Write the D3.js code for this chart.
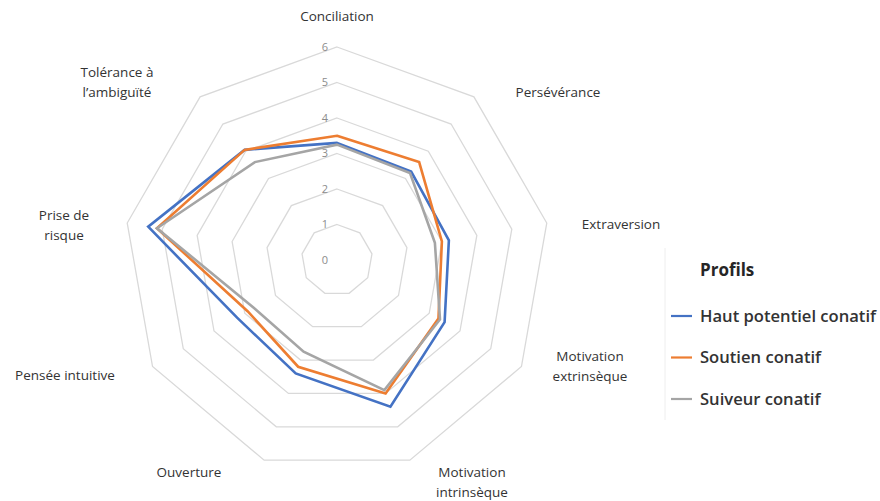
<!DOCTYPE html>
<html>
<head>
<meta charset="utf-8">
<script src="https://cdn.jsdelivr.net/npm/d3@7"></script>
<style>
  body { margin: 0; background: #fff; }
  text { font-family: "Open Sans", sans-serif; }
</style>
</head>
<body>
<div id="viz"></div>
<script>
// Axes of the radar, clockwise from the top
const axes = [
    ["Conciliation"],
    ["Persévérance"],
    ["Extraversion"],
    ["Motivation", "extrinsèque"],
    ["Motivation", "intrinsèque"],
    ["Ouverture"],
    ["Pensée intuitive"],
    ["Prise de", "risque"],
    ["Tolérance à", "l’ambiguïté"]
];

const ticks = [0, 1, 2, 3, 4, 5, 6];

const seriesNames = ["Haut potentiel conatif", "Soutien conatif", "Suiveur conatif"];
const hautPotentiel = [3.3, 3.25, 3.2, 3.5, 4.4, 3.4, 3.25, 5.4, 4.05];
const soutien = [3.5, 3.6, 3.0, 3.3, 4.0, 3.2, 2.9, 5.15, 4.05];
const suiveur = [3.25, 3.2, 2.8, 3.35, 3.9, 2.75, 2.7, 5.15, 3.6];
const colors = ["#4472C4", "#ED7D31", "#A5A5A5"];

// label placement (layout only)
const labelPos = [
    [337, 21], [558, 97], [621, 229], [590, 361], [472, 477],
    [189, 477], [65, 380], [64, 220], [117, 77]
];

const width = 880;
const height = 501;
const cx = 337;
const cy = 260;

const svg = d3.select("#viz").append("svg")
    .attr("width", width)
    .attr("height", height);

const r = d3.scaleLinear().domain([0, 6]).range([0, 213]);
const angle = i => i * 2 * Math.PI / axes.length;

const g = svg.append("g").attr("transform", `translate(${cx},${cy})`);

// grid nonagons
const gridLine = d3.lineRadial()
    .angle((d, i) => angle(i))
    .radius(d => r(d))
    .curve(d3.curveLinearClosed);

g.selectAll("path.grid")
    .data(ticks)
    .enter()
    .append("path")
    .attr("class", "grid")
    .attr("d", t => gridLine(axes.map(() => t)))
    .attr("fill", "none")
    .attr("stroke", "#d9d9d9")
    .attr("stroke-width", 1.3);

// tick labels
g.selectAll("text.tick")
    .data(ticks)
    .enter()
    .append("text")
    .attr("class", "tick")
    .attr("x", -9)
    .attr("y", t => -r(t))
    .attr("dy", "0.35em")
    .attr("text-anchor", "end")
    .attr("font-size", 11)
    .attr("fill", "#8c8c8c")
    .text(t => t);

// series
const seriesData = [hautPotentiel, soutien, suiveur];
const line = d3.lineRadial()
    .angle((d, i) => angle(i))
    .radius(d => r(d))
    .curve(d3.curveLinearClosed);

g.selectAll("path.series")
    .data(seriesData)
    .enter()
    .append("path")
    .attr("class", "series")
    .attr("d", d => line(d))
    .attr("fill", "none")
    .attr("stroke", (d, i) => colors[i])
    .attr("stroke-width", 2.6)
    .attr("stroke-linejoin", "miter");

// axis labels
const labels = svg.selectAll("text.axis")
    .data(axes)
    .enter()
    .append("text")
    .attr("class", "axis")
    .attr("text-anchor", "middle")
    .attr("font-size", 13.5)
    .attr("fill", "#333333")
    .attr("transform", (d, i) => `translate(${labelPos[i][0]},${labelPos[i][1]})`);

labels.each(function (lines) {
    d3.select(this).selectAll("tspan")
        .data(lines)
        .enter()
        .append("tspan")
        .attr("x", 0)
        .attr("y", (l, j) => j * 20)
        .text(l => l);
});

// legend
const legend = svg.append("g").attr("transform", "translate(665,0)");

legend.append("line")
    .attr("x1", 0).attr("x2", 0)
    .attr("y1", 248).attr("y2", 420)
    .attr("stroke", "#eeeeee");

legend.append("text")
    .attr("x", 35)
    .attr("y", 276)
    .attr("font-size", 17)
    .attr("font-weight", "bold")
    .attr("fill", "#262626")
    .text("Profils");

const items = legend.selectAll("g.item")
    .data(seriesNames)
    .enter()
    .append("g")
    .attr("class", "item")
    .attr("transform", (d, i) => `translate(0,${316 + i * 41.5})`);

items.append("line")
    .attr("x1", 6).attr("x2", 27)
    .attr("y1", 0).attr("y2", 0)
    .attr("stroke", (d, i) => colors[i])
    .attr("stroke-width", 2.2);

items.append("text")
    .attr("x", 35)
    .attr("dy", "0.35em")
    .attr("font-size", 16.6)
    .attr("font-weight", 600)
    .attr("fill", "#333333")
    .text(d => d);
</script>
</body>
</html>
